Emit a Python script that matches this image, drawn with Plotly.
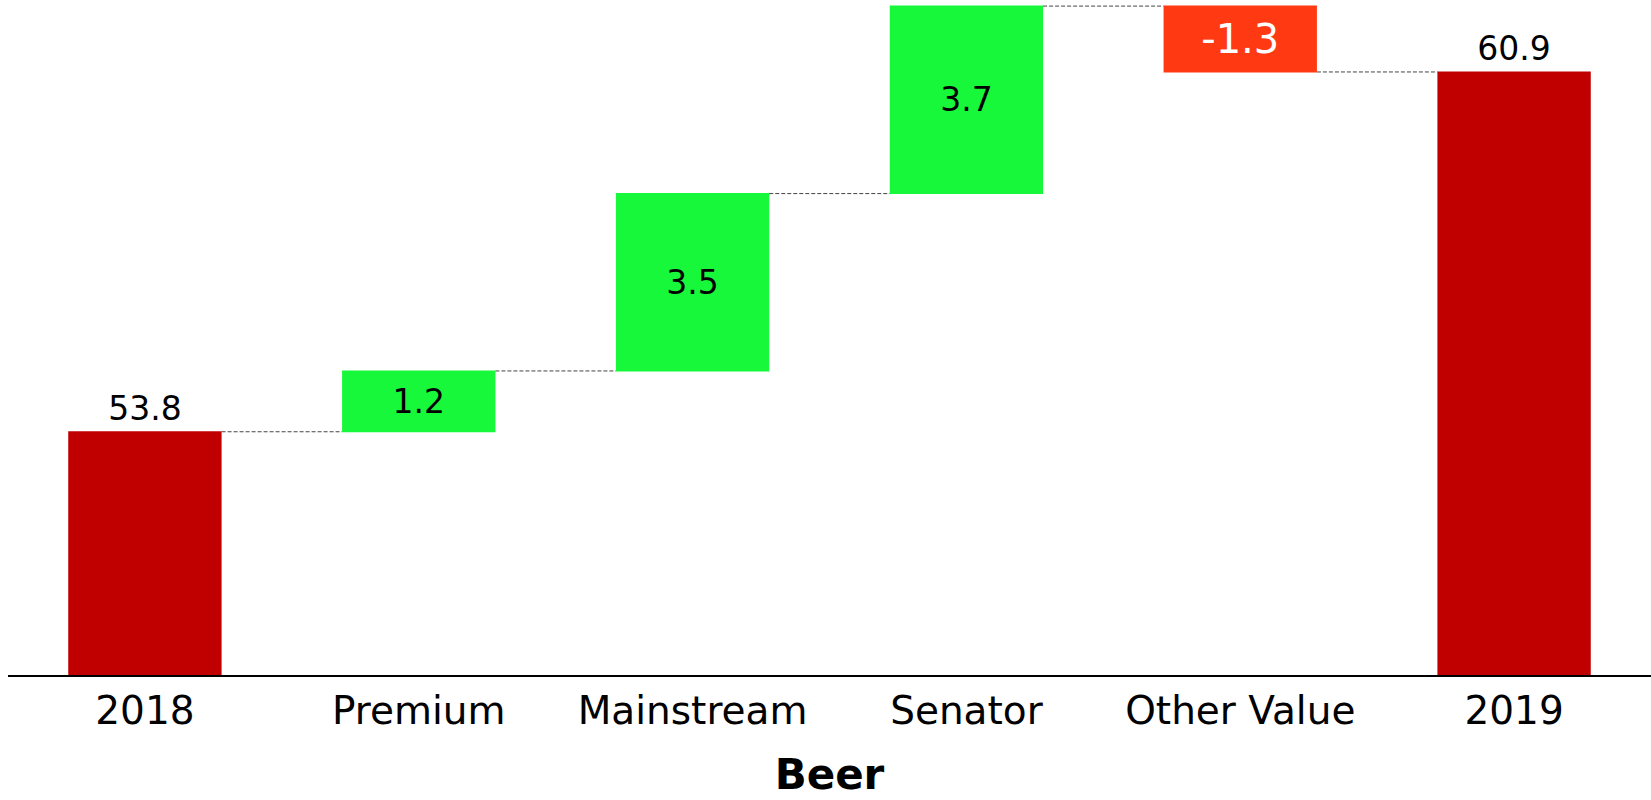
import plotly.graph_objects as go

categories = ["2018", "Premium", "Mainstream", "Senator", "Other Value", "2019"]
values = [53.8, 1.2, 3.5, 3.7, -1.3, 60.9]
measures = ["absolute", "relative", "relative", "relative", "relative", "total"]
labels = ["53.8", "1.2", "3.5", "3.7", "-1.3", "60.9"]
text_positions = ["outside", "inside", "inside", "inside", "inside", "outside"]
text_colors = ["black", "black", "black", "black", "white", "black"]
text_sizes = [33, 33, 33, 33, 40, 33]

FONT = "Verdana, DejaVu Sans, sans-serif"

fig = go.Figure(go.Waterfall(
    x=categories,
    y=values,
    measure=measures,
    text=labels,
    textposition=text_positions,
    insidetextanchor="middle",
    textfont=dict(family=FONT, color=text_colors, size=text_sizes),
    constraintext="none",
    cliponaxis=False,
    width=0.56,
    increasing=dict(marker=dict(color="#17F83A")),
    decreasing=dict(marker=dict(color="#FF3A12")),
    totals=dict(marker=dict(color="#C00000")),
    connector=dict(line=dict(color="#444444", width=1, dash="4px,2px"), mode="between"),
    hoverinfo="skip",
))

fig.update_layout(
    width=1651, height=800,
    margin=dict(l=8, r=0, t=0, b=125),
    plot_bgcolor="white", paper_bgcolor="white",
    showlegend=False,
    font=dict(family=FONT, color="black"),
    xaxis=dict(
        range=[-0.5, 5.5],
        showline=True, linecolor="black", linewidth=2,
        showgrid=False, ticks="",
        tickfont=dict(family=FONT, size=39, color="black"),
        title=dict(text="<b>Beer</b>", font=dict(family=FONT, size=42, color="black"), standoff=28),
        automargin=False,
    ),
    yaxis=dict(
        range=[49, 62.32],
        showticklabels=False, showgrid=False, zeroline=False, showline=False, ticks="",
    ),
)

fig.write_html("out.html")
